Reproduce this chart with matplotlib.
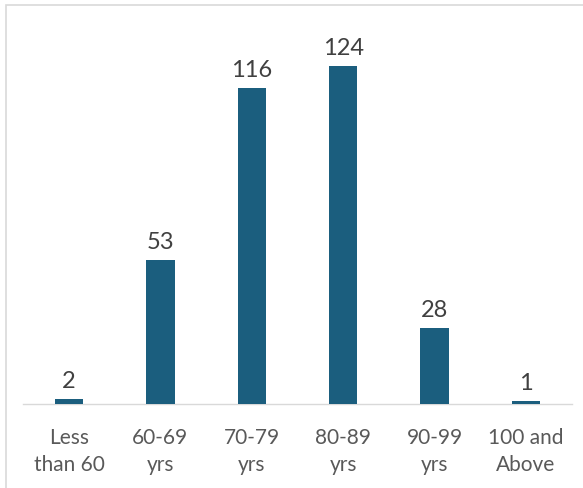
import matplotlib.pyplot as plt
from matplotlib.patches import Rectangle

categories = ["Less\nthan 60", "60-69\nyrs", "70-79\nyrs", "80-89\nyrs", "90-99\nyrs", "100 and\nAbove"]
counts = [2, 53, 116, 124, 28, 1]

bar_color = "#1b5e7e"
plt.rcParams['font.family'] = ['Lato', 'DejaVu Sans']

fig = plt.figure(figsize=(5.83, 4.88), dpi=100)
ax = fig.add_axes([23.3 / 583, 84 / 488, 548.4 / 583, 381.6 / 488])

x = range(len(categories))
bars = ax.bar(x, counts, width=0.31, color=bar_color, zorder=3)
for b, v in zip(bars, counts):
    ax.annotate(str(v), (b.get_x() + b.get_width() / 2, v), xytext=(0, 5),
                textcoords='offset points', ha='center', va='bottom',
                fontsize=17, color='#404040')

ax.set_xlim(-0.5, 5.5)
ax.set_ylim(0, 140)
ax.set_yticks([])
ax.set_xticks(list(x))
ax.set_xticklabels(categories, fontsize=15, color='#595959', linespacing=1.45)
ax.tick_params(axis='x', length=0, pad=17)
for s in ['top', 'right', 'left']:
    ax.spines[s].set_visible(False)
ax.spines['bottom'].set_color('#d9d9d9')
ax.spines['bottom'].set_linewidth(1.0)

# light frame round the chart area
fig.patches.append(Rectangle((6 / 583, -0.01), 1.0, (488 - 5) / 488 + 0.01,
                             transform=fig.transFigure, fill=False,
                             edgecolor='#d9d9d9', linewidth=1.2))

plt.savefig("out.png", dpi=100)
